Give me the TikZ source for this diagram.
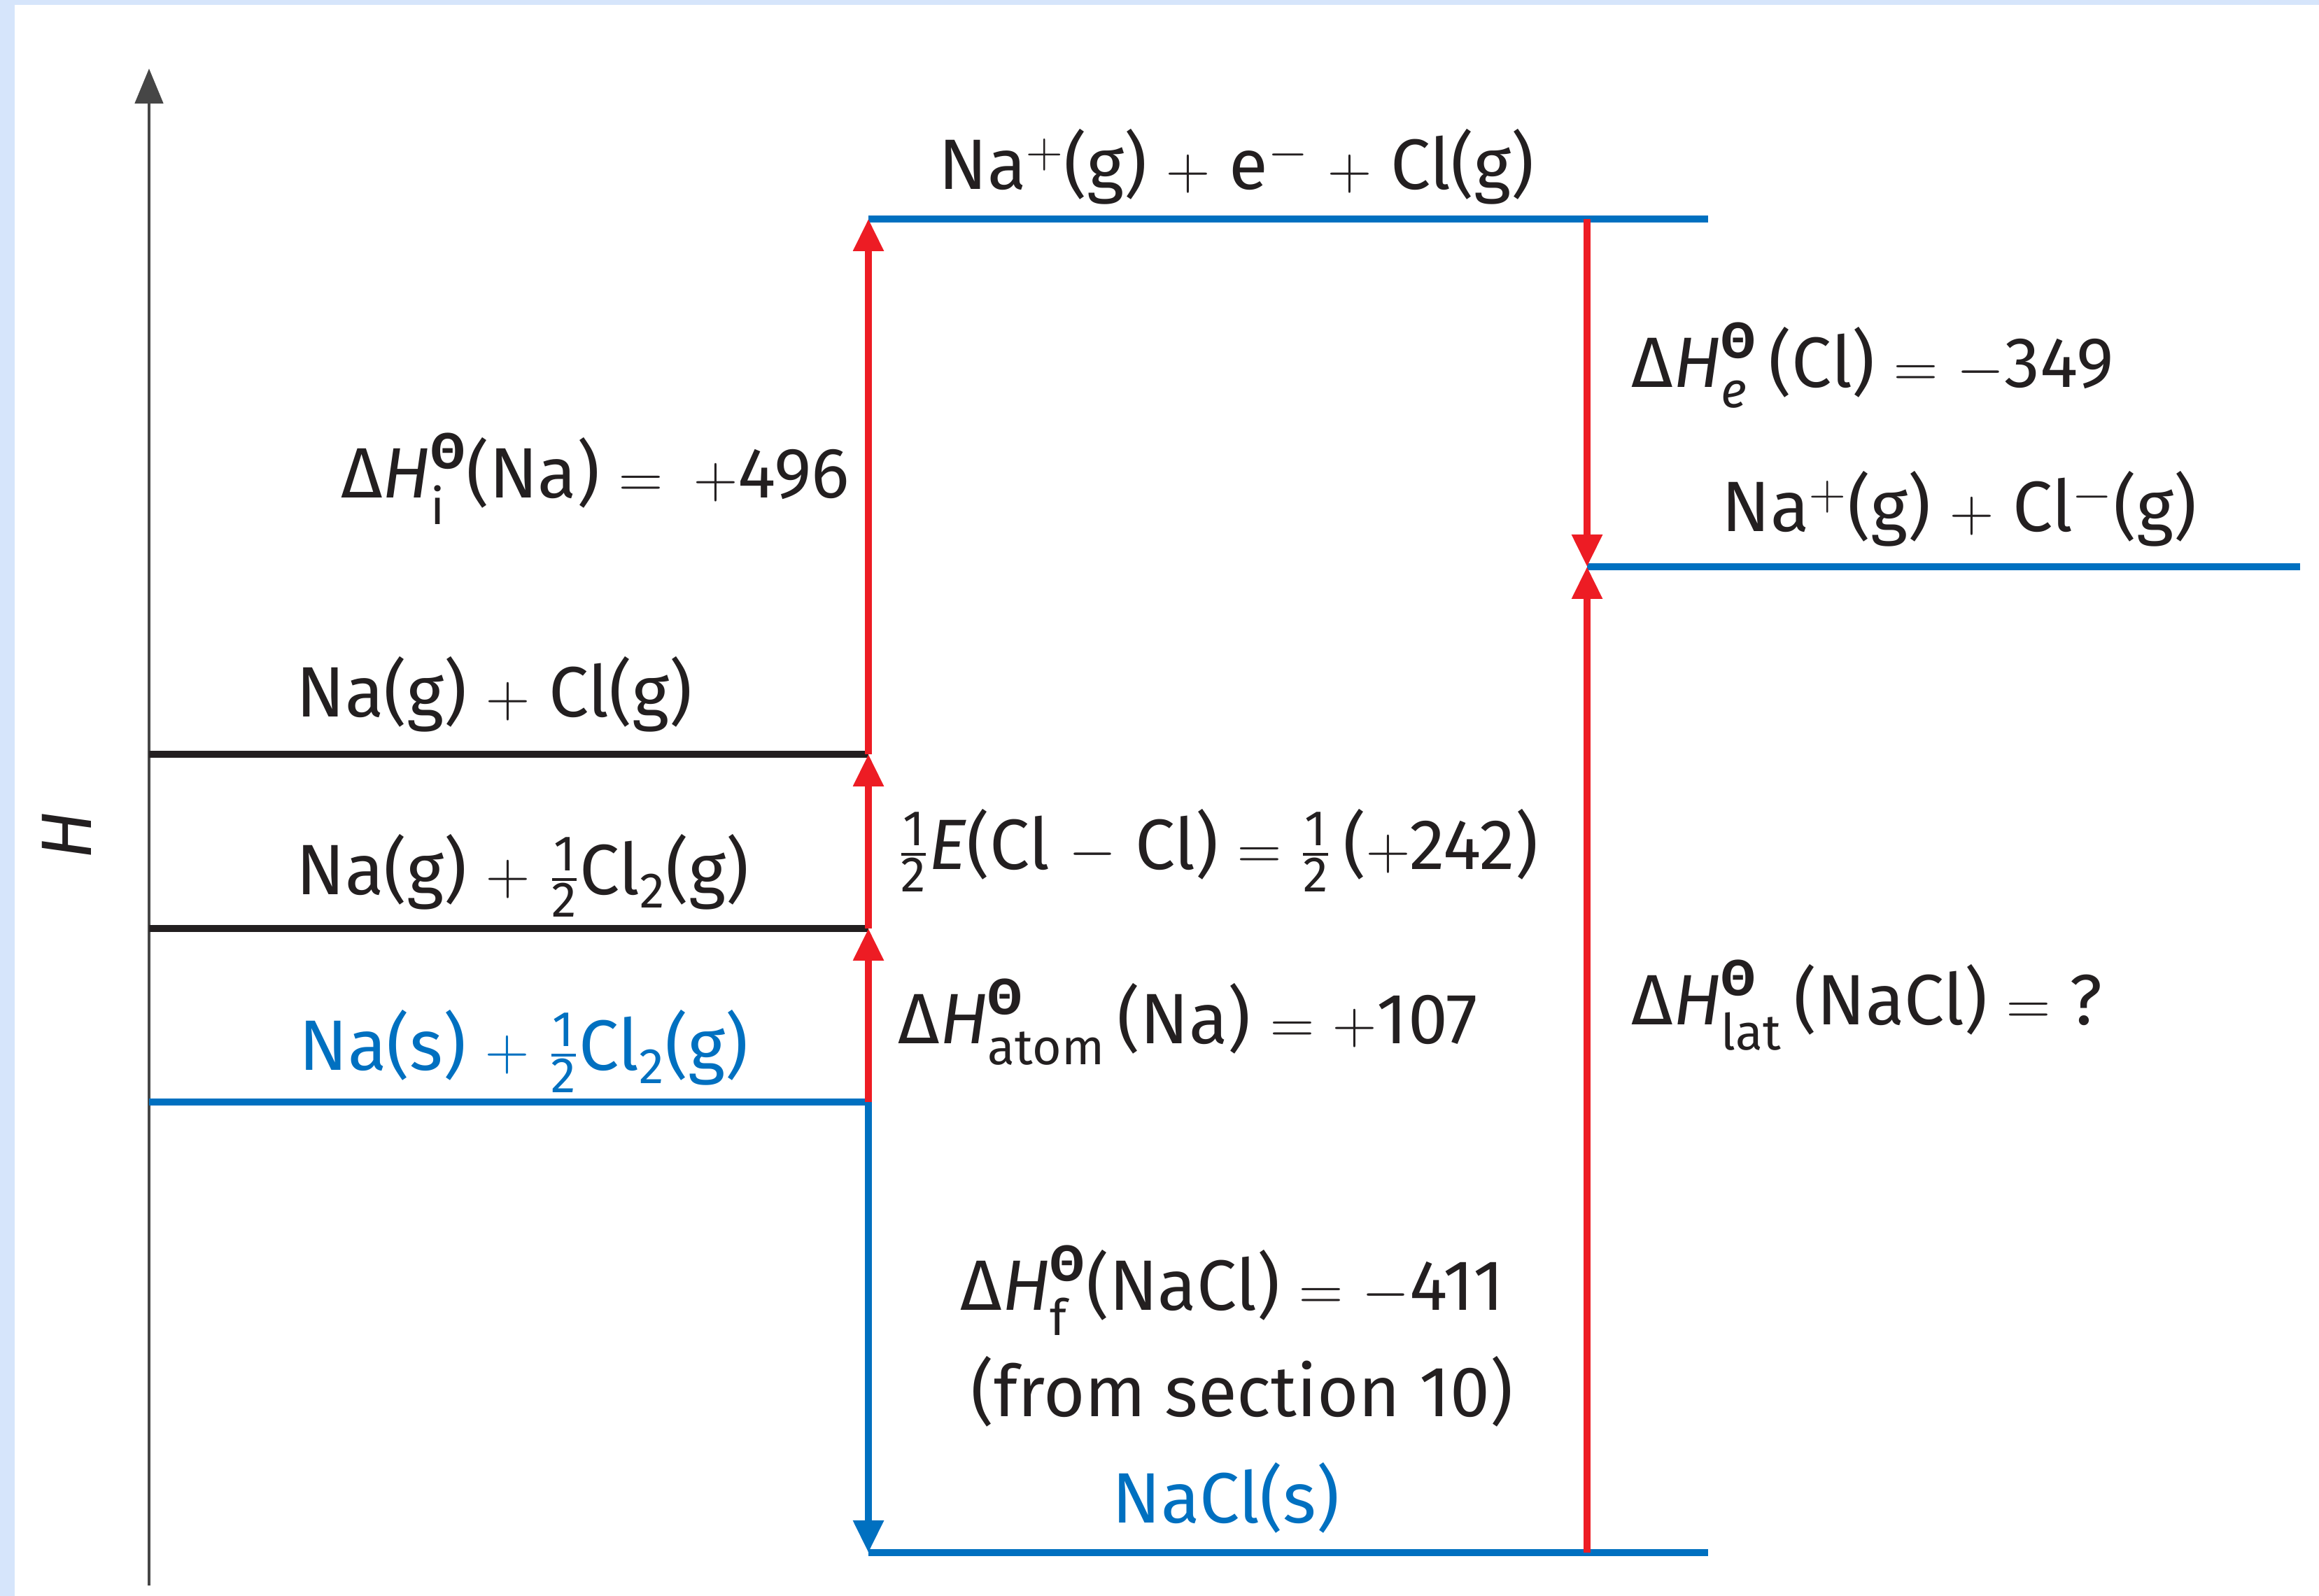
\documentclass[tikz,border=0pt]{standalone}
\usepackage{amsmath}
\usepackage{fontspec}
\setmainfont{Fira Sans}
\usetikzlibrary{arrows.meta}
\definecolor{levelblue}{RGB}{0,112,192}
\definecolor{stepred}{RGB}{237,28,36}
\definecolor{levelblack}{RGB}{35,31,32}
\definecolor{pageblue}{RGB}{214,229,251}
\definecolor{axisgray}{RGB}{70,70,70}
\newcommand{\dH}[1]{Δ\textit{H}\ensuremath{^{\text{\raisebox{0.15em}{\textbf{Θ}}}}_{\text{\raisebox{-0.1em}{#1}}}}}
\newcommand{\half}{\ensuremath{\tfrac{\text{1}}{\text{2}}}}
\newcommand{\up}[1]{\ensuremath{^{#1}}}
\newcommand{\dn}[1]{\ensuremath{_{\text{#1}}}}

\begin{document}
\begin{tikzpicture}[
  level/.style={line width=2.6pt, levelblack},
  bluelevel/.style={line width=2.6pt, levelblue},
  stepline/.style={line width=2.6pt, stepred, -{Triangle[length=0.46cm,width=0.42cm]}},
  lbl/.style={font=\fontsize{29}{34}\selectfont, inner sep=0pt, text=levelblack}
]
\fill[pageblue] (0,0) rectangle (33.14,22.81);
\fill[white] (0.21,0) rectangle (33.14,22.74);

\coordinate (axisbot) at (2.13,0.15);
\coordinate (axistop) at (2.13,21.83);
\draw[line width=1.4pt, axisgray, -{Triangle[length=0.5cm,width=0.4cm]}] (axisbot) -- (axistop);
\node[lbl, rotate=90] (hlabel) at (0.95,10.87) {\textit{H}};

\coordinate (gasL) at (2.13,12.03);    \coordinate (gasR) at (12.41,12.03);
\coordinate (halfL) at (2.13,9.54);    \coordinate (halfR) at (12.41,9.54);
\coordinate (elemL) at (2.13,7.06);    \coordinate (elemR) at (12.41,7.06);
\coordinate (ionL) at (12.41,19.68);   \coordinate (ionR) at (24.41,19.68);
\coordinate (ionmid) at (22.68,19.68);
\coordinate (anionL) at (22.68,14.71); \coordinate (anionR) at (32.87,14.71);
\coordinate (saltL) at (12.41,0.62);   \coordinate (saltR) at (24.41,0.62);
\coordinate (saltmid) at (22.68,0.62);

\draw[level] (gasL) -- (gasR);
\draw[level] (halfL) -- (halfR);
\draw[bluelevel] (elemL) -- (elemR);
\draw[bluelevel] (ionL) -- (ionR);
\draw[bluelevel] (anionL) -- (anionR);
\draw[bluelevel] (saltL) -- (saltR);

\draw[stepline] (elemR) -- (halfR);
\draw[stepline] (halfR) -- (gasR);
\draw[stepline] (gasR) -- (ionL);
\draw[stepline] (ionmid) -- (anionL);
\draw[stepline] (saltmid) -- (anionL);
\draw[line width=2.6pt, levelblue, -{Triangle[length=0.46cm,width=0.42cm]}] (elemR) -- (saltL);

\node[lbl, anchor=base] (ionlbl) at (17.67,20.10) {Na\up{+}(g) $+$ e\up{-} $+$ Cl(g)};
\node[lbl, anchor=base east] (ielbl) at (12.15,15.69) {\dH{i}(Na) $=$ \,$+$496};
\node[lbl, anchor=base west] (ealbl) at (23.31,17.27) {\dH{\textit{e}}\,(Cl) $=$ $-$349};
\node[lbl, anchor=base west] (anionlbl) at (24.60,15.21) {Na\up{+}(g) $+$ Cl\up{-}(g)};
\node[lbl, anchor=base west] (gaslbl) at (4.23,12.56) {Na(g) $+$ Cl(g)};
\node[lbl, anchor=base west] (halflbl) at (4.23,10.02) {Na(g) $+$ \half Cl\dn{2}(g)};
\node[lbl, anchor=base west, text=levelblue] (elemlbl) at (4.27,7.51) {Na(s) $+$ \half Cl\dn{2}(g)};
\node[lbl, anchor=base west] (bondlbl) at (12.83,10.38) {\half\textit{E}(Cl $-$ Cl) $=$ \half\,($+$242)};
\node[lbl, anchor=base west] (atomlbl) at (12.83,7.89) {\dH{atom}\,(Na) $=$ $+$107};
\node[lbl, anchor=base west] (latlbl) at (23.31,8.16) {\dH{lat}\,(NaCl) $=$ ?};
\node[lbl, anchor=base] (formlbl) at (17.61,4.08) {\dH{f}(NaCl) $=$ $-$411};
\node[lbl, anchor=base] (notelbl) at (17.75,2.56) {(from section 10)};
\node[lbl, anchor=base, text=levelblue] (saltlbl) at (17.52,1.04) {NaCl(s)};
\end{tikzpicture}
\end{document}
